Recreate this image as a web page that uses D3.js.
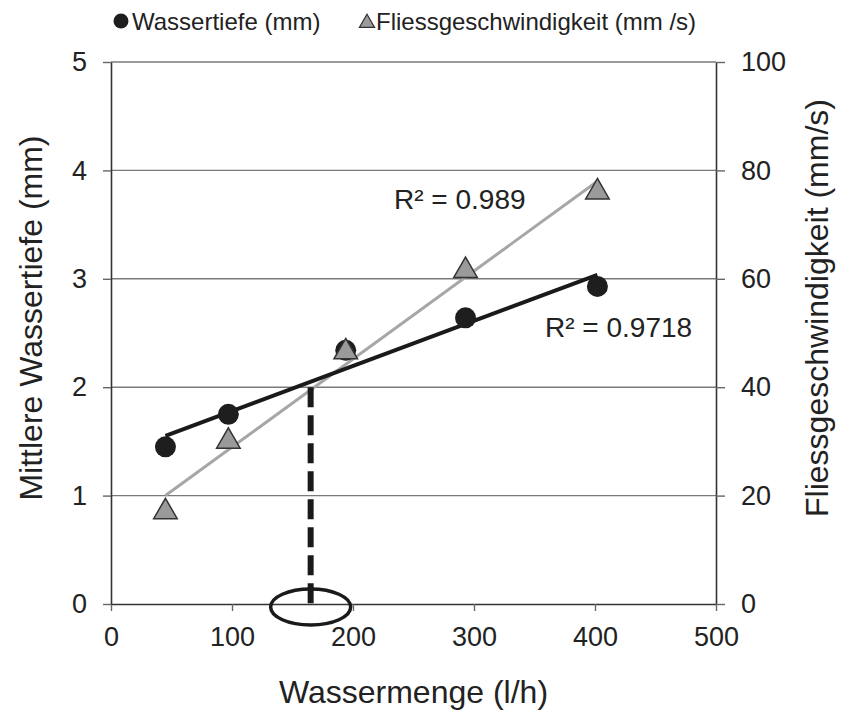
<!DOCTYPE html>
<html lang="en">
  <head>
    <meta charset="utf-8">
    <title>Wassermenge</title>
    <script src="https://d3js.org/d3.v7.min.js"></script>
    <style>
      body { margin: 0; background: #fff; }
      text { font-family: "Liberation Sans", Arial, sans-serif; fill: #222; }
      .tick text { font-size: 27px; }
      .title { font-size: 32px; }
      .legend { font-size: 24px; }
      .r2 { font-size: 28px; }
    </style>
  </head>
  <body>
    <div id="chart"></div>
    <script>

      // Wassermenge (l/h)
      var menge = [45, 97, 194, 293, 402];
      // Wassertiefe (mm), left axis
      var tiefe = [1.45, 1.75, 2.34, 2.64, 2.93];
      // Fliessgeschwindigkeit (mm/s), right axis
      var geschw = [17, 30, 46.5, 61.5, 76];

      var xTicks = [0, 100, 200, 300, 400, 500];
      var yLeftTicks = [0, 1, 2, 3, 4, 5];
      var yRightTicks = [0, 20, 40, 60, 80, 100];

      var r2Labels = ["R\u00b2 = 0.9718", "R\u00b2 = 0.989"];
      var legendNames = ["Wassertiefe (mm)", "Fliessgeschwindigkeit (mm /s)"];

      // marked crossing point
      var markX = 165, markY = 2;

      var w = 842, h = 715;
      var margin = {top: 62, right: 126, bottom: 111, left: 111};

      var svg = d3.select("#chart").append("svg")
                  .attr("width", w)
                  .attr("height", h);

      var xScale = d3.scaleLinear().domain([0, 500]).range([margin.left, w - margin.right]);
      var yLeft = d3.scaleLinear().domain([0, 5]).range([h - margin.bottom, margin.top]);
      var yRight = d3.scaleLinear().domain([0, 100]).range([h - margin.bottom, margin.top]);

      // gridlines
      svg.append("g").selectAll("line").data(yLeftTicks.slice(1)).enter().append("line")
         .attr("x1", xScale(0)).attr("x2", xScale(500))
         .attr("y1", d => yLeft(d)).attr("y2", d => yLeft(d))
         .attr("stroke", "#7a7a7a").attr("stroke-width", 1.4);

      var xAxis = d3.axisBottom(xScale).tickValues(xTicks).tickSize(7).tickPadding(16).tickSizeOuter(0);
      var leftAxis = d3.axisLeft(yLeft).tickValues(yLeftTicks).tickFormat(d3.format("d"))
                       .tickSize(8).tickPadding(16).tickSizeOuter(0);
      var rightAxis = d3.axisRight(yRight).tickValues(yRightTicks).tickSize(9).tickPadding(16).tickSizeOuter(0);

      var gx = svg.append("g").attr("transform", `translate(0, ${yLeft(0)})`).call(xAxis);
      var gl = svg.append("g").attr("transform", `translate(${xScale(0)}, 0)`).call(leftAxis);
      var gr = svg.append("g").attr("transform", `translate(${xScale(500)}, 0)`).call(rightAxis);

      [gx, gl, gr].forEach(function(g){
        g.select(".domain").attr("stroke", "#333").attr("stroke-width", 1.6);
        g.selectAll(".tick line").attr("stroke", "#666").attr("stroke-width", 1.4);
        g.selectAll(".tick text").attr("fill", "#222");
      });

      // regression lines
      function fit(xs, ys){
        var mx = d3.mean(xs), my = d3.mean(ys);
        var sxy = d3.sum(xs, (x, i) => (x - mx) * (ys[i] - my));
        var sxx = d3.sum(xs, x => (x - mx) * (x - mx));
        var b = sxy / sxx;
        return x => my + b * (x - mx);
      }

      var ends = d3.extent(menge);
      var fitT = fit(menge, tiefe);
      var fitG = fit(menge, geschw);

      svg.append("line")
         .attr("x1", xScale(ends[0])).attr("y1", yRight(fitG(ends[0])))
         .attr("x2", xScale(ends[1])).attr("y2", yRight(fitG(ends[1])))
         .attr("stroke", "#a6a6a6").attr("stroke-width", 3);

      svg.append("line")
         .attr("x1", xScale(ends[0])).attr("y1", yLeft(fitT(ends[0])))
         .attr("x2", xScale(ends[1])).attr("y2", yLeft(fitT(ends[1])))
         .attr("stroke", "#1a1a1a").attr("stroke-width", 4);

      // dashed marker + ellipse
      svg.append("line")
         .attr("x1", xScale(markX)).attr("x2", xScale(markX))
         .attr("y1", yLeft(markY)).attr("y2", yLeft(0))
         .attr("stroke", "#1a1a1a").attr("stroke-width", 6)
         .attr("stroke-dasharray", "20,8");

      svg.append("ellipse")
         .attr("cx", xScale(markX)).attr("cy", yLeft(0) + 3)
         .attr("rx", 40).attr("ry", 18)
         .attr("fill", "none").attr("stroke", "#1a1a1a").attr("stroke-width", 3.5);

      // points
      svg.append("g").selectAll("circle").data(menge).enter().append("circle")
         .attr("cx", d => xScale(d))
         .attr("cy", (d, i) => yLeft(tiefe[i]))
         .attr("r", 10.5)
         .attr("fill", "#1e1e1e");

      var tri = d3.symbol().type(d3.symbolTriangle).size(240);
      svg.append("g").selectAll("path").data(menge).enter().append("path")
         .attr("d", tri)
         .attr("transform", (d, i) => `translate(${xScale(d)}, ${yRight(geschw[i])})`)
         .attr("fill", "#9a9a9a").attr("stroke", "#333").attr("stroke-width", 1.5);

      // R2 labels
      svg.append("text").attr("class", "r2").attr("x", 545).attr("y", 337).text(r2Labels[0]);
      svg.append("text").attr("class", "r2").attr("x", 394).attr("y", 209).text(r2Labels[1]);

      // titles
      svg.append("text").attr("class", "title").attr("text-anchor", "middle")
         .attr("x", xScale(250)).attr("y", 703).text("Wassermenge (l/h)");

      svg.append("text").attr("class", "title").attr("text-anchor", "middle")
         .attr("transform", "translate(42, 318) rotate(-90)").text("Mittlere Wassertiefe (mm)");

      svg.append("text").attr("class", "title").attr("text-anchor", "middle")
         .attr("transform", "translate(828, 308) rotate(-90)").text("Fliessgeschwindigkeit (mm/s)");

      // legend
      var lg = svg.append("g");
      lg.append("circle").attr("cx", 121).attr("cy", 21).attr("r", 7.5).attr("fill", "#1e1e1e");
      lg.append("text").attr("class", "legend").attr("x", 132).attr("y", 30).text(legendNames[0]);
      lg.append("path").attr("d", d3.symbol().type(d3.symbolTriangle).size(100))
        .attr("transform", "translate(367, 23)")
        .attr("fill", "#9a9a9a").attr("stroke", "#333").attr("stroke-width", 1.2);
      lg.append("text").attr("class", "legend").attr("x", 376).attr("y", 30).text(legendNames[1]);

    </script>
  </body>
</html>
